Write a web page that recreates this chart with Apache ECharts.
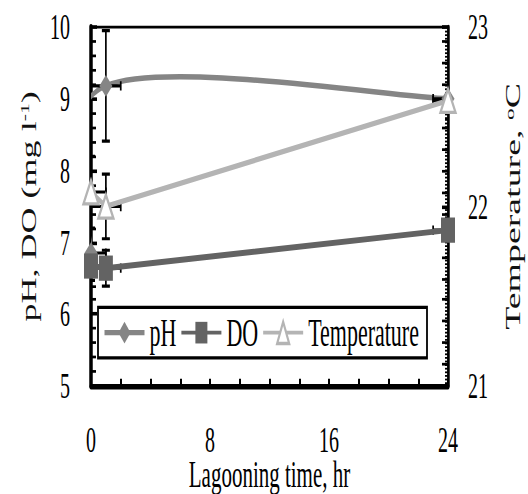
<!DOCTYPE html>
<html>
<head>
<meta charset="utf-8">
<script src="https://cdn.jsdelivr.net/npm/echarts@6/dist/echarts.min.js"></script>
<style>
  html, body { margin: 0; padding: 0; background: #fff; }
  body { width: 528px; height: 494px; }
  /* the reference picture is stretched vertically, so the whole chart is too */
  #chart { width: 528px; height: 274px; transform: scaleY(1.803); transform-origin: 0 0; }
</style>
</head>
<body>
<div id="chart"></div>
<script>
const hours = [0, 1, 24];
const phValues = [6.85, 9.18, 9.0];
const doValues = [6.67, 6.64, 7.17];
const tempValues = [22.08, 22.0, 22.59];
const phErr = [0, 0.77, 0];
const doErr = [0.2, 0.25, 0];
const tempErr = [0.2, 0.18, 0];
const hourErr = [1, 1, 1];
const hourLabels = [0, 8, 16, 24];

const FONT = '"Liberation Serif", "Times New Roman", serif';
const PH_COLOR = '#858585';
const DO_COLOR = '#636363';
const TEMP_COLOR = '#b4b4b4';

const pairs = (ys) => hours.map((h, i) => [h, ys[i]]);
const errRows = (ys, ye) => hours.map((h, i) => [h, ys[i], hourErr[i], ye[i]]);

const renderErr = (params, api) => {
  const x = api.value(0);
  const y = api.value(1);
  const xe = api.value(2);
  const ye = api.value(3);
  const style = { stroke: '#000', lineWidth: 1.7, fill: null };
  const children = [];
  const l = api.coord([x - xe, y]);
  const r = api.coord([x + xe, y]);
  children.push({ type: 'line', shape: { x1: l[0], y1: l[1], x2: r[0], y2: r[1] }, style });
  children.push({ type: 'line', shape: { x1: l[0], y1: l[1] - 2.6, x2: l[0], y2: l[1] + 2.6 }, style });
  children.push({ type: 'line', shape: { x1: r[0], y1: r[1] - 2.6, x2: r[0], y2: r[1] + 2.6 }, style });
  if (ye > 0) {
    const t = api.coord([x, y + ye]);
    const b = api.coord([x, y - ye]);
    children.push({ type: 'line', shape: { x1: t[0], y1: t[1], x2: b[0], y2: b[1] }, style });
    children.push({ type: 'line', shape: { x1: t[0] - 4, y1: t[1], x2: t[0] + 4, y2: t[1] }, style });
    children.push({ type: 'line', shape: { x1: b[0] - 4, y1: b[1], x2: b[0] + 4, y2: b[1] }, style });
  }
  return { type: 'group', children };
};

// excel-like smoothed line (catmull-rom through the points), so the pH curve overshoots like the original
const renderSmooth = (params, api) => {
  if (params.dataIndex !== 0) return null;
  const pts = hours.map((h, i) => api.coord([h, phValues[i]]));
  const children = [];
  for (let i = 0; i < pts.length - 1; i++) {
    const p0 = pts[Math.max(i - 1, 0)];
    const p1 = pts[i];
    const p2 = pts[i + 1];
    const p3 = pts[Math.min(i + 2, pts.length - 1)];
    children.push({
      type: 'bezierCurve',
      shape: {
        x1: p1[0], y1: p1[1], x2: p2[0], y2: p2[1],
        cpx1: p1[0] + (p2[0] - p0[0]) / 6, cpy1: p1[1] + (p2[1] - p0[1]) / 6,
        cpx2: p2[0] - (p3[0] - p1[0]) / 6, cpy2: p2[1] - (p3[1] - p1[1]) / 6
      },
      style: { stroke: PH_COLOR, lineWidth: 3, fill: null }
    });
  }
  return { type: 'group', children };
};

const chart = echarts.init(document.getElementById('chart'), null, { renderer: 'svg' });

chart.setOption({
  animation: false,
  textStyle: { fontFamily: FONT, color: '#000', fontWeight: 'normal' },
  grid: {
    left: 91, right: 80, top: 15, bottom: 60,
    outerBoundsMode: 'none',
    containLabel: false,
    show: true, borderColor: '#000', borderWidth: 1.5, backgroundColor: 'transparent'
  },
  legend: {
    left: 98, top: 170.5,
    padding: [3, 8, 3, 5],
    itemGap: 4,
    itemWidth: 40,
    itemHeight: 15,
    backgroundColor: '#fff',
    borderColor: '#000',
    borderWidth: 1.8,
    textStyle: { fontFamily: FONT, fontSize: 22, color: '#000' },
    data: [
      { name: 'pH', lineStyle: { opacity: 1, color: PH_COLOR, width: 3 } },
      'DO',
      'Temperature'
    ]
  },
  xAxis: {
    type: 'value',
    min: 0, max: 24, interval: 2,
    name: 'Lagooning time, hr',
    nameLocation: 'middle',
    nameGap: 39,
    nameMoveOverlap: false,
    nameTextStyle: { fontFamily: FONT, fontSize: 21, lineHeight: 21, color: '#000', fontWeight: 'normal' },
    axisLine: { onZero: false, lineStyle: { color: '#000', width: 3 } },
    axisTick: { inside: true, length: 4, lineStyle: { color: '#000', width: 2 } },
    axisLabel: {
      margin: 21, lineHeight: 18, fontFamily: FONT, fontSize: 20, color: '#000',
      formatter: (v) => (hourLabels.indexOf(v) >= 0 ? String(v) : '')
    },
    splitLine: { show: false }
  },
  yAxis: [
    {
      type: 'value',
      min: 5, max: 10, interval: 1,
      position: 'left',
      name: 'pH, DO (mg l{sup|-1})',
      nameLocation: 'middle',
      nameGap: 50,
      nameTextStyle: {
        fontFamily: FONT, fontSize: 20, color: '#111', fontWeight: 'normal',
        rich: { sup: { fontFamily: FONT, fontSize: 12, color: '#111', fontWeight: 'normal', verticalAlign: 'top', padding: [0, 0, 7, 0] } }
      },
      axisLine: { show: true, lineStyle: { color: '#000', width: 3.5 } },
      axisTick: { inside: true, length: 6, lineStyle: { color: '#000', width: 2 } },
      minorTick: { show: true, splitNumber: 5, length: 5, lineStyle: { color: '#000', width: 1.5 } },
      axisLabel: { margin: 21, fontFamily: FONT, fontSize: 20, color: '#000' },
      splitLine: { show: false }
    },
    {
      type: 'value',
      min: 21, max: 23, interval: 1,
      position: 'right',
      name: 'Temperature, {sup|o}C',
      nameLocation: 'middle',
      nameGap: 55,
      nameTextStyle: {
        fontFamily: FONT, fontSize: 21, color: '#111', fontWeight: 'normal',
        rich: { sup: { fontFamily: FONT, fontSize: 13, color: '#111', fontWeight: 'normal', verticalAlign: 'top', padding: [0, 0, 7, 0] } }
      },
      axisLine: { show: true, lineStyle: { color: '#000', width: 2.5 } },
      axisTick: { inside: true, length: 6, lineStyle: { color: '#000', width: 2 } },
      minorTick: { show: true, splitNumber: 50, length: 3, lineStyle: { color: '#000', width: 1 } },
      axisLabel: { margin: 20, fontFamily: FONT, fontSize: 20, color: '#000' },
      splitLine: { show: false }
    },
    {
      // the coarser tick row on the right axis
      type: 'value',
      min: 21, max: 23, interval: 0.12,
      position: 'right',
      axisLine: { show: false },
      axisTick: { show: true, inside: true, length: 6, lineStyle: { color: '#000', width: 1.5 } },
      axisLabel: { show: false },
      splitLine: { show: false }
    }
  ],
  series: [
    {
      type: 'custom',
      yAxisIndex: 0,
      clip: true,
      z: 2,
      renderItem: renderSmooth,
      data: pairs(phValues)
    },
    {
      name: 'pH',
      type: 'line',
      yAxisIndex: 0,
      data: pairs(phValues),
      symbol: 'diamond',
      symbolSize: [13, 12],
      z: 3,
      itemStyle: { color: PH_COLOR },
      lineStyle: { color: PH_COLOR, width: 3, opacity: 0 }
    },
    {
      name: 'DO',
      type: 'line',
      yAxisIndex: 0,
      data: pairs(doValues),
      symbol: 'rect',
      symbolSize: [14, 14],
      z: 3,
      itemStyle: { color: DO_COLOR },
      lineStyle: { color: DO_COLOR, width: 3.3 }
    },
    {
      name: 'Temperature',
      type: 'line',
      yAxisIndex: 1,
      data: pairs(tempValues),
      symbol: 'emptyTriangle',
      symbolSize: [15, 13],
      z: 3,
      itemStyle: { color: TEMP_COLOR, borderWidth: 2 },
      lineStyle: { color: TEMP_COLOR, width: 3 }
    },
    {
      type: 'custom', yAxisIndex: 0, clip: true, z: 2,
      renderItem: renderErr, data: errRows(phValues, phErr)
    },
    {
      type: 'custom', yAxisIndex: 0, clip: true, z: 2,
      renderItem: renderErr, data: errRows(doValues, doErr)
    },
    {
      type: 'custom', yAxisIndex: 1, clip: true, z: 2,
      renderItem: renderErr, data: errRows(tempValues, tempErr)
    }
  ]
});
</script>
</body>
</html>
